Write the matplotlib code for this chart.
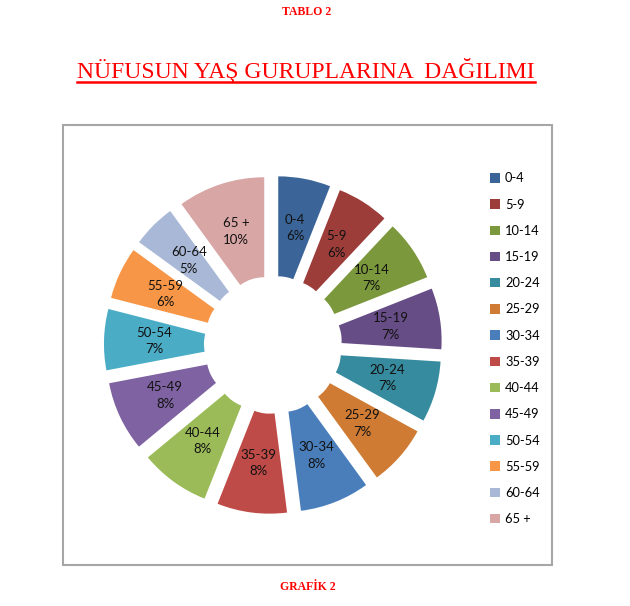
import matplotlib
matplotlib.use('Agg')
import matplotlib.pyplot as plt
from matplotlib.patches import Rectangle
from matplotlib.lines import Line2D

# yas gruplari ve yuzdeleri
gruplar = ['0-4', '5-9', '10-14', '15-19', '20-24', '25-29', '30-34',
           '35-39', '40-44', '45-49', '50-54', '55-59', '60-64', '65 +']
yuzdeler = [6, 6, 7, 7, 7, 7, 8, 8, 8, 8, 7, 6, 5, 10]
renkler = ['#3b6598', '#9c3d3a', '#7b983d', '#664d85', '#378b9f', '#cf7b34',
           '#4a7ebb', '#be4b48', '#9bbb59', '#7f62a1', '#4bacc6', '#f79646',
           '#a9b8d7', '#d8a6a5']

fig = plt.figure(figsize=(6.3, 6.06), dpi=100)

# grafik cercevesi
fig.add_artist(Rectangle((0.1, 0.0677), 0.776, 0.726, transform=fig.transFigure,
                         fill=False, edgecolor='#a6a6a6', linewidth=1.5))

ax = fig.add_axes([0.165, 0.152, 0.5365, 0.5578])
etiket = iter(gruplar)
wedges, texts, autotexts = ax.pie(
    yuzdeler, colors=renkler, startangle=90, counterclock=False,
    explode=[0.2] * len(yuzdeler), radius=1.0,
    wedgeprops=dict(width=0.71, linewidth=0),
    autopct=lambda p: "{}\n{:.0f}%".format(next(etiket), p),
    pctdistance=0.645,
    textprops=dict(fontsize=9.5, family='Lato', color='#111111', linespacing=1.45))
ax.set_xlim(-1.2, 1.2)
ax.set_ylim(-1.2, 1.2)
ax.set_aspect('equal')
ax.axis('off')

fig.legend(wedges, gruplar, loc='upper left', bbox_to_anchor=(0.77, 0.724),
           frameon=False, prop=dict(family='Lato', size=9.3),
           handlelength=0.75, handleheight=0.75, handletextpad=0.4,
           labelspacing=1.1, borderaxespad=0)

fig.text(0.486, 0.98, 'TABLO 2', ha='center', va='center', color='red',
         family='Liberation Serif', weight='bold', fontsize=8.5)
baslik = fig.text(0.486, 0.883, 'NÜFUSUN YAŞ GURUPLARINA  DAĞILIMI', ha='center',
                  va='center', color='red', family='Liberation Serif', fontsize=17)
fig.text(0.488, 0.031, 'GRAFİK 2', ha='center', va='center', color='red',
         family='Liberation Serif', weight='bold', fontsize=8.5)

# baslik alti cizgi
fig.canvas.draw()
bb = baslik.get_window_extent().transformed(fig.transFigure.inverted())
fig.add_artist(Line2D([bb.x0, bb.x1], [bb.y0 + 0.002, bb.y0 + 0.002],
                      transform=fig.transFigure, color='red', linewidth=1.8))

plt.savefig('out.png', dpi=100)
plt.close()
